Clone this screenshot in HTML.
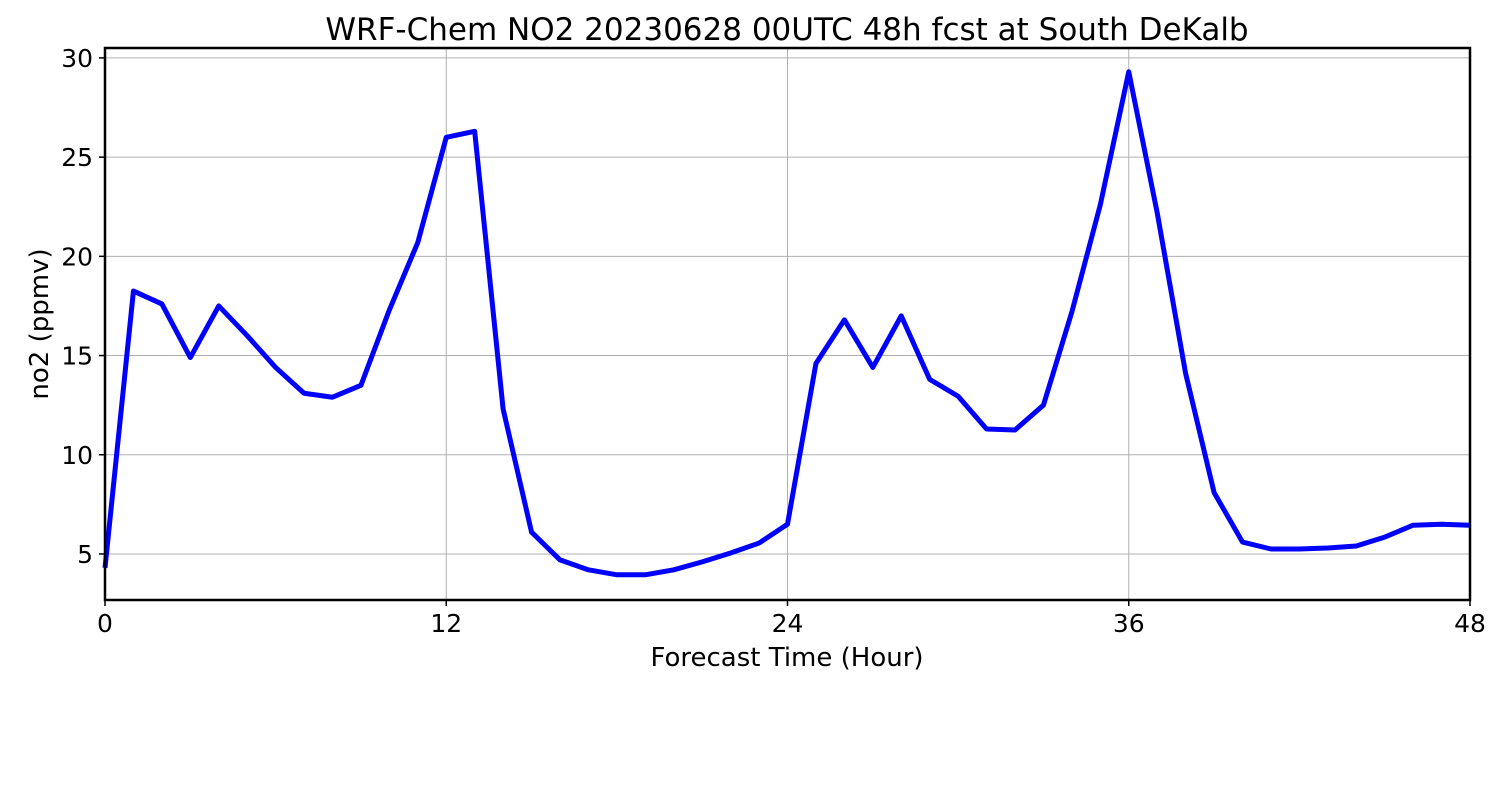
<!DOCTYPE html>
<html><head><meta charset="utf-8"><style>
body{margin:0;background:#fff;}
svg text{font-family:"DejaVu Sans","Liberation Sans",sans-serif;fill:#000;}
</style></head><body>
<svg id="chart" width="1500" height="800" xmlns="http://www.w3.org/2000/svg">
<rect width="1500" height="800" fill="#fff"/>
<text x="787" y="40" font-size="31" text-anchor="middle">WRF-Chem NO2  20230628 00UTC 48h fcst at South DeKalb</text>
<g id="grid"></g>
<g id="ticks"></g>
<polyline id="line" fill="none" stroke="#0000ff" stroke-width="5" stroke-linejoin="round"/>
<rect x="105" y="48" width="1365" height="552" fill="none" stroke="#000" stroke-width="2.5"/>
<text x="787" y="666" font-size="26" text-anchor="middle">Forecast Time (Hour)</text>
<text transform="translate(48,324) rotate(-90)" font-size="26" text-anchor="middle">no2  (ppmv)</text>
</svg>
<script>
const hours = [0,1,2,3,4,5,6,7,8,9,10,11,12,13,14,15,16,17,18,19,20,21,22,23,24,25,26,27,28,29,30,31,32,33,34,35,36,37,38,39,40,41,42,43,44,45,46,47,48];
const no2Values = [4.3,18.25,17.6,14.9,17.5,16.0,14.4,13.1,12.9,13.5,17.3,20.7,26.0,26.3,12.3,6.1,4.7,4.2,3.95,3.95,4.2,4.6,5.05,5.55,6.5,14.6,16.8,14.4,17.0,13.8,12.95,11.3,11.25,12.5,17.2,22.6,29.3,22.2,14.1,8.1,5.6,5.25,5.25,5.3,5.4,5.85,6.45,6.5,6.45];
const xTicks = [0,12,24,36,48];
const yTicks = [5,10,15,20,25,30];
const NS='http://www.w3.org/2000/svg';
const X0=105,X1=1470,Y0=600,Y1=48,XMIN=0,XMAX=48,YMIN=2.68,YMAX=30.5;
function xs(v){return X0+(v-XMIN)/(XMAX-XMIN)*(X1-X0);}
function ys(v){return Y0-(v-YMIN)/(YMAX-YMIN)*(Y0-Y1);}
const grid=document.getElementById('grid'),ticks=document.getElementById('ticks');
xTicks.forEach(t=>{
 const l=document.createElementNS(NS,'line');
 
 
 l.setAttribute('x1',xs(t));l.setAttribute('x2',xs(t));l.setAttribute('y1',Y1);l.setAttribute('y2',Y0);
 l.setAttribute('stroke','#b0b0b0');l.setAttribute('stroke-width','1');grid.appendChild(l);
 const tk=document.createElementNS(NS,'line');
 
 
 tk.setAttribute('x1',xs(t));tk.setAttribute('x2',xs(t));tk.setAttribute('y1',Y0);tk.setAttribute('y2',Y0+6);
 tk.setAttribute('stroke','#000');tk.setAttribute('stroke-width','1.5');ticks.appendChild(tk);
 const tx=document.createElementNS(NS,'text');
 
 
 tx.setAttribute('x',xs(t));tx.setAttribute('y',632);tx.setAttribute('font-size','25');tx.setAttribute('text-anchor','middle');
 tx.textContent=t;ticks.appendChild(tx);
});
yTicks.forEach(t=>{
 const l=document.createElementNS(NS,'line');
 
 
 l.setAttribute('x1',X0);l.setAttribute('x2',X1);l.setAttribute('y1',ys(t));l.setAttribute('y2',ys(t));
 l.setAttribute('stroke','#b0b0b0');l.setAttribute('stroke-width','1');grid.appendChild(l);
 const tk=document.createElementNS(NS,'line');
 
 
 tk.setAttribute('x1',X0-6);tk.setAttribute('x2',X0);tk.setAttribute('y1',ys(t));tk.setAttribute('y2',ys(t));
 tk.setAttribute('stroke','#000');tk.setAttribute('stroke-width','1.5');ticks.appendChild(tk);
 const tx=document.createElementNS(NS,'text');
 
 
 tx.setAttribute('x',X0-12);tx.setAttribute('y',ys(t)+9);tx.setAttribute('font-size','25');tx.setAttribute('text-anchor','end');
 tx.textContent=t;ticks.appendChild(tx);
});
document.getElementById('line').setAttribute('points',hours.map((h,i)=>xs(h)+','+ys(no2Values[i])).join(' '));
</script>
</body></html>
